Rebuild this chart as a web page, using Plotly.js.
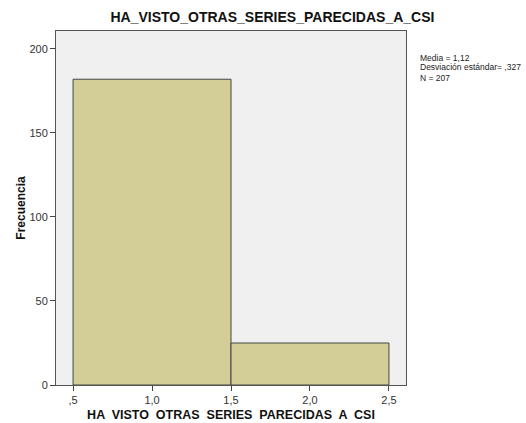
<!DOCTYPE html>
<html><head><meta charset="utf-8">
<script src="https://cdn.plot.ly/plotly-3.0.1.min.js"></script>
<style>body{margin:0;background:#fff}#c{width:526px;height:423px}</style>
</head><body><div id="c"></div>
<script>
const binCenters = [1.0, 2.0];
const counts = [182, 25];
const binWidth = 1;
const xTickVals = [0.5, 1.0, 1.5, 2.0, 2.5];
const xTickText = [',5', '1,0', '1,5', '2,0', '2,5'];
const yTickVals = [0, 50, 100, 150, 200];
const statsText = ['Media = 1,12', 'Desviación estándar= ,327', 'N = 207'];
const statsY = [0.9251, 0.8969, 0.8686];

const trace = {
  type: 'bar', x: binCenters, y: counts, width: binWidth,
  marker: {color: '#d3ce98', line: {color: '#444', width: 1}},
  hoverinfo: 'none'
};
const layout = {
  width: 526, height: 423,
  margin: {l: 56, r: 120, t: 31, b: 38},
  paper_bgcolor: '#fff', plot_bgcolor: '#f0f0f0',
  font: {family: 'Arial, Liberation Sans, sans-serif', size: 11, color: '#333'},
  title: {text: '<b>HA_VISTO_OTRAS_SERIES_PARECIDAS_A_CSI</b>', x: 0.518, xanchor: 'center', y: 0.96, yanchor: 'middle',
    font: {size: 14, color: '#111'}},
  bargap: 0,
  showlegend: false,
  xaxis: {range: [0.392, 2.608], tickvals: xTickVals, ticktext: xTickText,
    ticks: 'outside', ticklen: 5, tickcolor: '#444', showgrid: false, zeroline: false,
    showline: true, mirror: true, linecolor: '#555', linewidth: 1,
    tickfont: {size: 11, color: '#333'},
    title: {text: '<b>HA  VISTO  OTRAS  SERIES  PARECIDAS  A  CSI</b>', standoff: 5, font: {size: 12.5, color: '#111'}}},
  yaxis: {range: [0, 210.7], tickvals: yTickVals,
    ticks: 'outside', ticklen: 5, tickcolor: '#444', showgrid: false, zeroline: false,
    showline: true, mirror: true, linecolor: '#555', linewidth: 1,
    tickfont: {size: 11, color: '#333'},
    title: {text: '<b>Frecuencia</b>', standoff: 1, font: {size: 12, color: '#111'}}},
  annotations: statsText.map((t, i) => ({
    xref: 'paper', yref: 'paper', x: 1.037, y: statsY[i], xanchor: 'left', yanchor: 'middle',
    text: t, showarrow: false, borderpad: 0, font: {size: 8.5, color: '#222'}
  }))
};
Plotly.newPlot('c', [trace], layout, {displayModeBar: false, staticPlot: true});
</script></body></html>
